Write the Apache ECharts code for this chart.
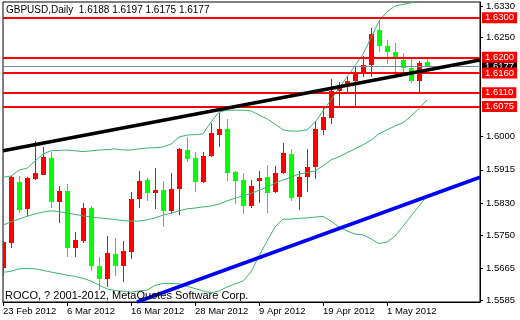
<!DOCTYPE html>
<html><head><meta charset="utf-8">
<script src="https://cdn.jsdelivr.net/npm/echarts@6/dist/echarts.min.js"></script>
<style>html,body{margin:0;padding:0;background:#fff}#c{width:520px;height:320px}</style>
</head><body><div id="c"></div>
<script>
const symbolName = 'GBPUSD,Daily';
const copyright = 'ROCO, ? 2001-2012, MetaQuotes Software Corp.';
const dates = ['23 Feb 2012','24 Feb 2012','27 Feb 2012','28 Feb 2012','29 Feb 2012',
 '1 Mar 2012','2 Mar 2012','5 Mar 2012','6 Mar 2012','7 Mar 2012','8 Mar 2012','9 Mar 2012',
 '12 Mar 2012','13 Mar 2012','14 Mar 2012','15 Mar 2012','16 Mar 2012',
 '19 Mar 2012','20 Mar 2012','21 Mar 2012','22 Mar 2012','23 Mar 2012',
 '26 Mar 2012','27 Mar 2012','28 Mar 2012','29 Mar 2012','30 Mar 2012',
 '2 Apr 2012','3 Apr 2012','4 Apr 2012','5 Apr 2012','6 Apr 2012',
 '9 Apr 2012','10 Apr 2012','11 Apr 2012','12 Apr 2012','13 Apr 2012',
 '16 Apr 2012','17 Apr 2012','18 Apr 2012','19 Apr 2012','20 Apr 2012',
 '23 Apr 2012','24 Apr 2012','25 Apr 2012','26 Apr 2012','27 Apr 2012',
 '30 Apr 2012','1 May 2012','2 May 2012','3 May 2012','4 May 2012','7 May 2012','8 May 2012'];
const opens  = [1.5667,1.5730,1.5884,1.5816,1.5892,1.5903,1.5945,1.5834,1.5862,1.5718,1.5735,1.5818,1.5672,1.5638,1.5702,1.5672,1.5706,1.5841,1.5889,1.5855,1.5864,1.5811,1.5866,1.5965,1.5944,1.5884,1.5949,1.6004,1.6018,1.5909,1.5888,1.5824,1.5886,1.5896,1.5859,1.5906,1.5955,1.5845,1.5897,1.5922,1.6017,1.6047,1.6115,1.6128,1.6140,1.6158,1.6180,1.6269,1.6229,1.6214,1.6194,1.6173,1.6141,1.6188];
const highs  = [1.5735,1.5898,1.5899,1.5896,1.5987,1.5973,1.5959,1.5874,1.5879,1.5757,1.5830,1.5822,1.5695,1.5747,1.5742,1.5734,1.5859,1.5912,1.5893,1.5919,1.5887,1.5906,1.5970,1.5997,1.5960,1.5960,1.6033,1.6058,1.6044,1.5912,1.5906,1.5889,1.5911,1.5927,1.5925,1.5982,1.5968,1.5913,1.5968,1.6039,1.6072,1.6145,1.6138,1.6150,1.6178,1.6203,1.6274,1.6295,1.6244,1.6235,1.6210,1.6195,1.6191,1.6197];
const lows   = [1.5647,1.5718,1.5805,1.5798,1.5889,1.5901,1.5819,1.5781,1.5695,1.5695,1.5730,1.5659,1.5610,1.5619,1.5647,1.5631,1.5690,1.5817,1.5836,1.5816,1.5769,1.5803,1.5800,1.5935,1.5859,1.5882,1.5947,1.5972,1.5887,1.5828,1.5803,1.5819,1.5832,1.5806,1.5857,1.5904,1.5835,1.5813,1.5859,1.5891,1.6003,1.6031,1.6075,1.6109,1.6077,1.6149,1.6149,1.6214,1.6183,1.6159,1.6159,1.6136,1.6110,1.6175];
const closes = [1.5733,1.5896,1.5813,1.5894,1.5907,1.5947,1.5834,1.5862,1.5718,1.5737,1.5818,1.5672,1.5638,1.5703,1.5671,1.5709,1.5841,1.5887,1.5855,1.5864,1.5811,1.5866,1.5967,1.5942,1.5884,1.5950,1.6008,1.6018,1.5908,1.5887,1.5824,1.5874,1.5893,1.5857,1.5907,1.5957,1.5843,1.5896,1.5923,1.6018,1.6049,1.6115,1.6129,1.6140,1.6158,1.6180,1.6259,1.6229,1.6214,1.6195,1.6172,1.6141,1.6186,1.6177];
const bandUpper = [1.5896,1.5899,1.5914,1.5919,1.5937,1.5955,1.5963,1.5964,1.5965,1.5963,1.5961,1.5963,1.5965,1.5966,1.5968,1.5965,1.5965,1.5968,1.5970,1.5971,1.5973,1.5980,1.5998,1.6003,1.6004,1.6006,1.6036,1.6061,1.6066,1.6066,1.6066,1.6064,1.6054,1.6044,1.6031,1.6016,1.6013,1.6013,1.6016,1.6035,1.6064,1.6092,1.6122,1.6150,1.6179,1.6208,1.6249,1.6292,1.6315,1.6330,1.6334,1.6338,1.6343,1.6348];
const bandMiddle = [1.5775,1.5783,1.5790,1.5797,1.5803,1.5808,1.5811,1.5809,1.5805,1.5802,1.5798,1.5795,1.5793,1.5791,1.5789,1.5786,1.5785,1.5785,1.5788,1.5793,1.5800,1.5805,1.5811,1.5816,1.5818,1.5821,1.5823,1.5828,1.5836,1.5843,1.5849,1.5855,1.5863,1.5871,1.5881,1.5889,1.5896,1.5904,1.5908,1.5912,1.5925,1.5940,1.5948,1.5958,1.5968,1.5978,1.5990,1.6006,1.6016,1.6026,1.6034,1.6051,1.6070,1.6092];
const bandLower = [1.5655,1.5658,1.5664,1.5665,1.5664,1.5660,1.5656,1.5652,1.5648,1.5645,1.5640,1.5633,1.5623,1.5613,1.5609,1.5607,1.5605,1.5608,1.5610,1.5622,1.5627,1.5627,1.5626,1.5620,1.5614,1.5608,1.5603,1.5608,1.5618,1.5626,1.5633,1.5656,1.5697,1.5734,1.5770,1.5790,1.5790,1.5792,1.5793,1.5795,1.5797,1.5785,1.5770,1.5760,1.5752,1.5750,1.5740,1.5728,1.5732,1.5747,1.5772,1.5798,1.5823,1.5849];
const levels = [1.6300, 1.6200, 1.6160, 1.6110, 1.6075];
const bidPrice = 1.6177;
const trendBlack = [[0, 1.5963], [59.625, 1.6193]];
const trendBlue = [[16.75, 1.5580], [59.625, 1.5896]];
const yTickLabels = [1.5585, 1.5665, 1.5750, 1.5830, 1.5915, 1.6000, 1.6250, 1.6330];
const xTickIdx = [0, 8, 16, 24, 32, 40, 48];

const FONT = "'Liberation Sans', Arial, sans-serif";
const chart = echarts.init(document.getElementById('c'), null, {renderer: 'canvas'});
const n = dates.length;
const candles = dates.map((d, i) => [i, opens[i], closes[i], lows[i], highs[i]]);
const band = arr => arr.map((v, i) => [i, v]);
const last = n - 1;
const titleText = symbolName + '  ' + [opens[last], highs[last], lows[last], closes[last]].map(v => v.toFixed(4)).join(' ');

const option = {
  backgroundColor: '#ffffff',
  animation: false,
  title: [
    {text: titleText, left: 6, top: 5, padding: 0,
     textStyle: {fontSize: 10, fontWeight: 'normal', color: '#000', fontFamily: FONT}},
    {text: copyright, left: 5, top: 290, padding: 0,
     textStyle: {fontSize: 11, fontWeight: 'normal', color: '#000', fontFamily: FONT}}
  ],
  grid: {left: 3, top: 2, right: 40, bottom: 18, show: true, borderColor: '#000', borderWidth: 1, backgroundColor: 'transparent'},
  xAxis: {
    type: 'value', min: 0, max: 59.625,
    axisLine: {show: true, onZero: false, lineStyle: {color: '#000', width: 1}},
    axisTick: {show: true, length: 4, customValues: xTickIdx, lineStyle: {color: '#000'}},
    axisLabel: {customValues: xTickIdx, formatter: v => dates[Math.round(v)] || '', align: 'left',
      fontSize: 9.5, color: '#000', fontFamily: FONT, margin: 4, hideOverlap: false},
    splitLine: {show: false}
  },
  yAxis: {
    type: 'value', position: 'right', min: 1.5580, max: 1.6340, scale: true,
    axisLine: {show: true, onZero: false, lineStyle: {color: '#000', width: 1}},
    axisTick: {show: true, length: 3, customValues: yTickLabels, lineStyle: {color: '#000'}},
    axisLabel: {customValues: yTickLabels, formatter: v => v.toFixed(4), fontSize: 9.5,
      color: '#000', fontFamily: FONT, margin: 6},
    splitLine: {show: false}
  },
  series: [
    {
      type: 'custom', name: 'candles', clip: true, z: 2,
      encode: {x: 0, y: [1, 2, 3, 4]},
      data: candles,
      renderItem: function (params, api) {
        const i = api.value(0), o = api.value(1), c = api.value(2), l = api.value(3), h = api.value(4);
        const pTop = api.coord([i, Math.max(o, c)]);
        const pBot = api.coord([i, Math.min(o, c)]);
        const pH = api.coord([i, h]);
        const pL = api.coord([i, l]);
        const cx = Math.round(pTop[0]);
        const col = c >= o ? '#ff0000' : '#00ff00';
        const y1 = Math.round(pTop[1]);
        const y2 = Math.max(Math.round(pBot[1]), y1 + 1);
        const yh = Math.round(pH[1]);
        const yl = Math.max(Math.round(pL[1]), yh + 1);
        return {type: 'group', children: [
          {type: 'rect', shape: {x: cx, y: yh, width: 1, height: yl - yh}, style: {fill: col}},
          {type: 'rect', shape: {x: cx - 2, y: y1, width: 5, height: y2 - y1}, style: {fill: col}}
        ]};
      }
    },
    {type: 'line', data: band(bandUpper), showSymbol: false, z: 3, clip: true,
     lineStyle: {color: '#3cb371', width: 1}},
    {type: 'line', data: band(bandMiddle), showSymbol: false, z: 3, clip: true,
     lineStyle: {color: '#3cb371', width: 1}},
    {type: 'line', data: band(bandLower), showSymbol: false, z: 3, clip: true,
     lineStyle: {color: '#3cb371', width: 1}},
    {type: 'line', data: [], z: 4,
     markLine: {silent: true, symbol: ['none', 'none'], animation: false, precision: 4,
       lineStyle: {color: '#778899', width: 1, type: 'solid'},
       label: {show: true, position: 'end', distance: 2, formatter: p => p.value.toFixed(4),
         color: '#fff', backgroundColor: '#000', padding: [1, 3, 0, 3], fontSize: 9.5, fontFamily: FONT, lineHeight: 10},
       data: [{yAxis: bidPrice}]}},
    {type: 'line', data: trendBlack, showSymbol: false, z: 5, clip: true,
     lineStyle: {color: '#000', width: 3.5}},
    {type: 'line', data: trendBlue, showSymbol: false, z: 5, clip: true,
     lineStyle: {color: '#0000ff', width: 3.5}},
    {type: 'line', data: [], z: 6,
     markLine: {silent: true, symbol: ['none', 'none'], animation: false, precision: 4,
       lineStyle: {color: '#ff0000', width: 2, type: 'solid'},
       label: {show: true, position: 'end', distance: 2, formatter: p => p.value.toFixed(4),
         color: '#fff', backgroundColor: '#ff0000', padding: [1, 3, 0, 3], fontSize: 9.5, fontFamily: FONT, lineHeight: 10},
       data: levels.map(v => ({yAxis: v}))}}
  ]
};
chart.setOption(option);
</script>
</body></html>
